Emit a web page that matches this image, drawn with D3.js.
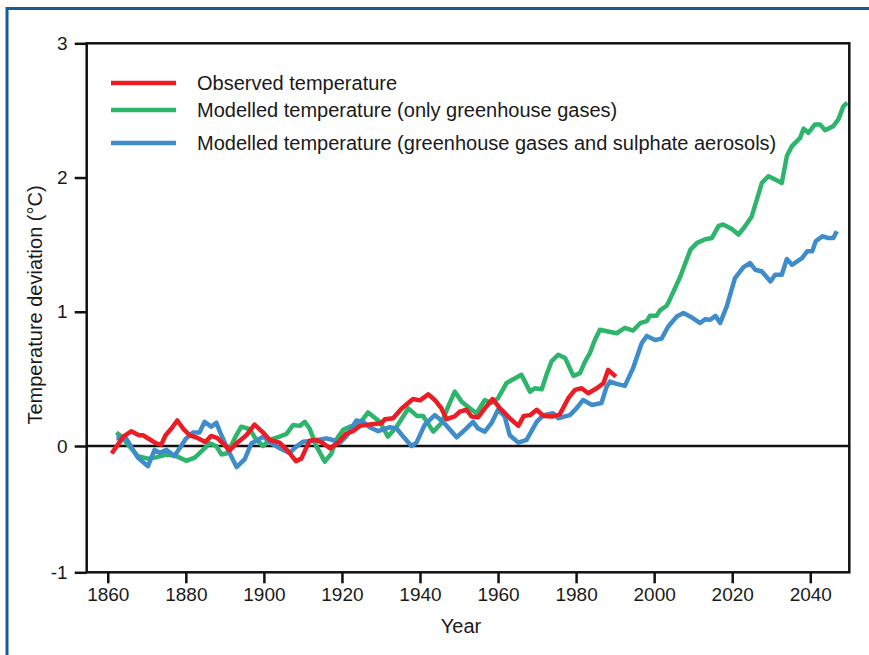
<!DOCTYPE html>
<html>
<head>
<meta charset="utf-8">
<script src="https://cdn.jsdelivr.net/npm/d3@7"></script>
<style>
  html, body { margin: 0; padding: 0; background: #ffffff; }
  svg { display: block; }
  text { font-family: "Liberation Sans", Arial, sans-serif; fill: #1a1a1a; }
</style>
</head>
<body>
<script>
// ---- Data ----
const xTickYears = [1860, 1880, 1900, 1920, 1940, 1960, 1980, 2000, 2020, 2040];
const yTickValues = [-1, 0, 1, 2, 3];

const seriesNames = [
  "Observed temperature",
  "Modelled temperature (only greenhouse gases)",
  "Modelled temperature (greenhouse gases and sulphate aerosols)"
];

const observedYears = [1861, 1864, 1866, 1868, 1869, 1871, 1872.4, 1873.7, 1874.8, 1876.3, 1877.8, 1879.3, 1881, 1883, 1885, 1886.5, 1888, 1889.5, 1891.2, 1893.4, 1895.5, 1897.6, 1899.8, 1901.5, 1904, 1906.2, 1908.2, 1909.6, 1911.7, 1913.5, 1915.2, 1917, 1919, 1921, 1922.8, 1924.6, 1927.1, 1930.1, 1931, 1933.1, 1935.3, 1938.2, 1940, 1942.1, 1943.8, 1945.5, 1946.8, 1948.9, 1950.2, 1951.9, 1953.2, 1954.9, 1956.6, 1958.6, 1960.5, 1963, 1965.2, 1966.6, 1968.2, 1969.9, 1971.6, 1974.1, 1975.8, 1978, 1979.7, 1981.4, 1983.1, 1985.3, 1987, 1988.2, 1990.2];
const observedValues = [-0.06, 0.07, 0.11, 0.08, 0.08, 0.045, 0.02, 0.01, 0.08, 0.13, 0.19, 0.13, 0.08, 0.06, 0.03, 0.075, 0.06, 0.02, -0.035, 0.03, 0.08, 0.16, 0.1, 0.045, 0.025, -0.04, -0.12, -0.1, 0.04, 0.045, 0.02, -0.02, 0.025, 0.09, 0.11, 0.15, 0.16, 0.17, 0.2, 0.207, 0.28, 0.35, 0.34, 0.385, 0.343, 0.28, 0.2, 0.22, 0.256, 0.27, 0.22, 0.214, 0.28, 0.35, 0.28, 0.207, 0.15, 0.224, 0.23, 0.27, 0.224, 0.22, 0.236, 0.356, 0.418, 0.43, 0.393, 0.43, 0.468, 0.567, 0.517];

const ghgYears = [1862.2, 1863.5, 1865.6, 1867.7, 1870.3, 1872.4, 1875, 1877.6, 1880.1, 1882.3, 1884.4, 1886.1, 1887.8, 1889.1, 1890.8, 1892.5, 1894.2, 1896.4, 1898.1, 1899.8, 1901.5, 1904, 1905.8, 1907.5, 1909.2, 1910.5, 1911.7, 1913.5, 1915.6, 1917.3, 1918.6, 1920.3, 1922, 1923.7, 1925.4, 1926.7, 1928, 1929.7, 1931.8, 1934, 1937, 1939.2, 1940.8, 1943.4, 1945.5, 1947.2, 1948.9, 1950.7, 1952.8, 1954.5, 1956.6, 1958.3, 1960, 1962.2, 1964.7, 1966, 1968.2, 1969.4, 1971.2, 1972.4, 1973.7, 1975.4, 1977.2, 1979.3, 1981, 1982.3, 1983.5, 1984.8, 1986.1, 1988.2, 1990.4, 1992.5, 1994.6, 1996.4, 1998.1, 1998.9, 2000.6, 2001.5, 2003.2, 2004, 2006.7, 2009.3, 2011, 2013.1, 2014.8, 2016.5, 2017.7, 2019.9, 2021.6, 2023.3, 2025, 2026.3, 2027.6, 2029.3, 2031, 2032.7, 2034, 2035.3, 2037.4, 2038.3, 2039.5, 2041.2, 2042.5, 2043.8, 2045.9, 2047.2, 2048.5, 2049.5];
const ghgValues = [0.10, 0.07, -0.005, -0.08, -0.10, -0.09, -0.067, -0.08, -0.117, -0.092, -0.03, 0.02, 0, -0.067, -0.055, 0.057, 0.144, 0.125, 0.045, 0, 0.045, 0.07, 0.09, 0.157, 0.15, 0.18, 0.13, -0.005, -0.124, -0.06, 0.05, 0.12, 0.144, 0.157, 0.2, 0.25, 0.22, 0.18, 0.07, 0.144, 0.28, 0.224, 0.224, 0.107, 0.17, 0.293, 0.405, 0.33, 0.28, 0.244, 0.343, 0.32, 0.356, 0.47, 0.51, 0.53, 0.405, 0.43, 0.423, 0.53, 0.63, 0.68, 0.655, 0.522, 0.543, 0.63, 0.69, 0.79, 0.866, 0.853, 0.84, 0.88, 0.86, 0.915, 0.93, 0.97, 0.97, 1.01, 1.045, 1.09, 1.263, 1.463, 1.513, 1.54, 1.55, 1.64, 1.65, 1.617, 1.575, 1.637, 1.71, 1.836, 1.96, 2.01, 1.985, 1.96, 2.16, 2.234, 2.296, 2.364, 2.333, 2.396, 2.396, 2.353, 2.383, 2.433, 2.532, 2.557];

const aerosolYears = [1862.2, 1864.7, 1867.7, 1870.3, 1872, 1873.3, 1875, 1877.1, 1880.1, 1881.8, 1883.5, 1884.8, 1886.5, 1887.8, 1889.1, 1890.8, 1893, 1895.1, 1896.8, 1898.5, 1899.8, 1901.9, 1904, 1906.6, 1908.3, 1910, 1912.6, 1916, 1917.7, 1919.4, 1921.2, 1923.7, 1925.4, 1927.1, 1929.3, 1932.3, 1934, 1935.7, 1937.8, 1939.1, 1941.2, 1943.8, 1945.9, 1949.4, 1951.5, 1953.6, 1954.9, 1956.6, 1958.3, 1960, 1961.7, 1963, 1965.2, 1967.3, 1969.9, 1971.6, 1974.1, 1975.4, 1978.4, 1980.1, 1981.8, 1984, 1986.5, 1987.8, 1988.7, 1990.4, 1992.5, 1994.6, 1996.8, 1998.1, 2000.2, 2001.9, 2003.6, 2005.8, 2007.5, 2009.2, 2011.8, 2013.1, 2014.4, 2015.7, 2016.9, 2018.6, 2020.7, 2022.9, 2024.6, 2025.9, 2027.6, 2029.8, 2031, 2032.7, 2034, 2035.3, 2037.9, 2039.2, 2040.5, 2041.4, 2043.1, 2044.4, 2045.9, 2046.8];
const aerosolValues = [0.057, 0.057, -0.092, -0.16, -0.03, -0.055, -0.03, -0.08, 0.057, 0.1, 0.1, 0.18, 0.144, 0.174, 0.08, -0.03, -0.167, -0.104, 0.02, 0.045, 0.07, 0.02, -0.017, -0.055, -0.005, 0.032, 0.04, 0.057, 0.045, 0.02, 0.075, 0.19, 0.18, 0.14, 0.11, 0.14, 0.13, 0.07, 0, 0.025, 0.157, 0.23, 0.18, 0.065, 0.12, 0.18, 0.13, 0.107, 0.17, 0.27, 0.22, 0.08, 0.025, 0.045, 0.18, 0.23, 0.244, 0.207, 0.23, 0.28, 0.343, 0.306, 0.32, 0.44, 0.48, 0.463, 0.448, 0.58, 0.766, 0.82, 0.79, 0.80, 0.89, 0.965, 0.99, 0.965, 0.916, 0.945, 0.94, 0.97, 0.916, 1.04, 1.25, 1.333, 1.363, 1.313, 1.30, 1.226, 1.276, 1.276, 1.393, 1.35, 1.40, 1.45, 1.45, 1.525, 1.563, 1.55, 1.55, 1.60];

const seriesColors = ["#ec1c24", "#2eb56c", "#3f8ccb"];

// ---- Layout ----
const W = 869, H = 655;
const plotL = 86.7, plotR = 849.3, plotT = 43.3, plotB = 572.3;
const FONT = '"Liberation Sans", Arial, sans-serif';

const svg = d3.select("body").append("svg")
  .attr("width", W).attr("height", H);

svg.append("rect").attr("width", W).attr("height", H).attr("fill", "#ffffff");

// outer blue frame (right/bottom edges run off the page)
svg.append("rect")
  .attr("x", 7).attr("y", 8.5)
  .attr("width", 900).attr("height", 700)
  .attr("fill", "none")
  .attr("stroke", "#155d97")
  .attr("stroke-width", 3);

const x = d3.scaleLinear().domain([1854.6, 2050]).range([plotL, plotR]);
const y = d3.scaleLinear().domain([-1, 0, 3]).range([plotB, 446, plotT]);

// axes
const yAxis = d3.axisLeft(y).tickValues(yTickValues).tickSize(12).tickPadding(7)
  .tickFormat(d => String(d));
const gy = svg.append("g").attr("transform", `translate(${plotL},0)`).call(yAxis);
gy.select(".domain").remove();
gy.selectAll(".tick line").attr("stroke", "#111").attr("stroke-width", 2.5);
gy.selectAll(".tick text").attr("font-size", 19).attr("fill", "#1a1a1a")
  .style("font-family", FONT);

const xAxis = d3.axisBottom(x).tickValues(xTickYears).tickSize(11).tickPadding(4)
  .tickFormat(d => String(d));
const gx = svg.append("g").attr("transform", `translate(0,${plotB})`).call(xAxis);
gx.select(".domain").remove();
gx.selectAll(".tick line").attr("stroke", "#111").attr("stroke-width", 2.5);
gx.selectAll(".tick text").attr("font-size", 19).attr("fill", "#1a1a1a")
  .style("font-family", FONT);

// zero line
svg.append("line")
  .attr("x1", plotL).attr("x2", plotR)
  .attr("y1", y(0)).attr("y2", y(0))
  .attr("stroke", "#111").attr("stroke-width", 2.5);

// series
const line = d3.line().x(d => x(d[0])).y(d => y(d[1]));
const zip = (a, b) => a.map((v, i) => [v, b[i]]);
const series = [
  { data: zip(observedYears, observedValues), color: seriesColors[0] },
  { data: zip(ghgYears, ghgValues), color: seriesColors[1] },
  { data: zip(aerosolYears, aerosolValues), color: seriesColors[2] }
];
const drawOrder = [1, 2, 0];
drawOrder.forEach(i => {
  svg.append("path")
    .datum(series[i].data)
    .attr("d", line)
    .attr("fill", "none")
    .attr("stroke", series[i].color)
    .attr("stroke-width", 4.5)
    .attr("stroke-linejoin", "round");
});

// plot frame
svg.append("rect")
  .attr("x", plotL).attr("y", plotT)
  .attr("width", plotR - plotL).attr("height", plotB - plotT)
  .attr("fill", "none").attr("stroke", "#111").attr("stroke-width", 2.5);

// legend
const legendRows = [83, 110, 143];
seriesNames.forEach((name, i) => {
  svg.append("line")
    .attr("x1", 111).attr("x2", 176)
    .attr("y1", legendRows[i]).attr("y2", legendRows[i])
    .attr("stroke", seriesColors[i]).attr("stroke-width", 4.5);
  svg.append("text")
    .attr("x", 197).attr("y", legendRows[i])
    .attr("dy", "0.35em")
    .attr("font-size", 20)
    .text(name);
});

// axis titles
svg.append("text")
  .attr("x", 461).attr("y", 633)
  .attr("text-anchor", "middle").attr("font-size", 20)
  .text("Year");

svg.append("text")
  .attr("transform", `translate(42,305) rotate(-90)`)
  .attr("text-anchor", "middle").attr("font-size", 20)
  .text("Temperature deviation (°C)");
</script>
</body>
</html>
